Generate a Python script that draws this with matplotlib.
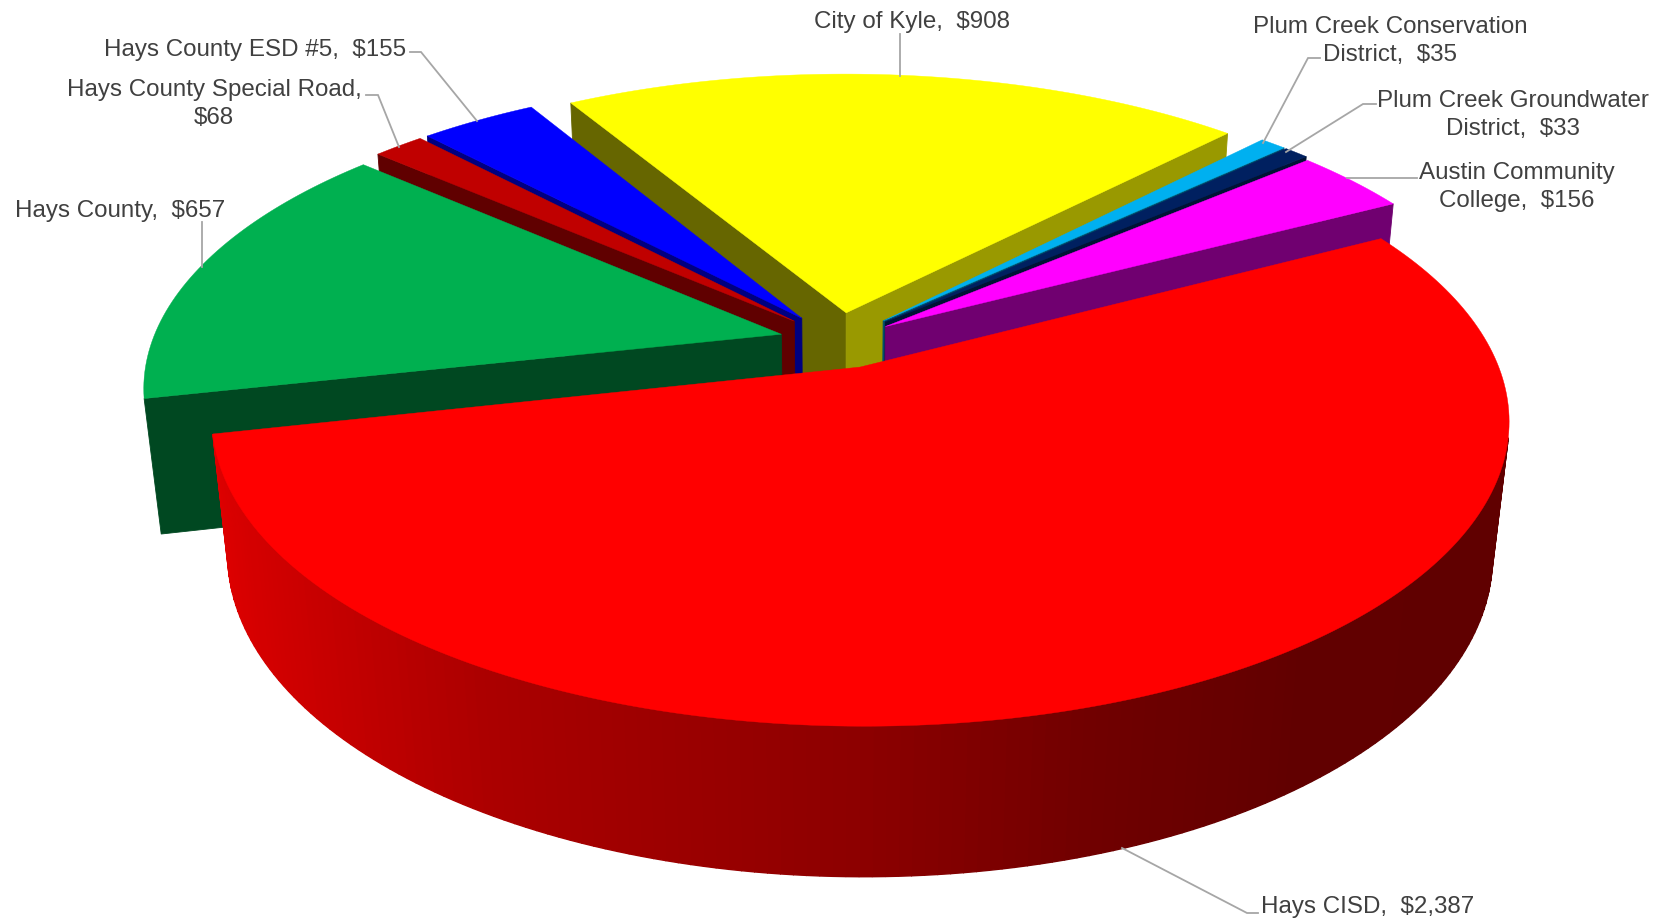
import numpy as np
import matplotlib
matplotlib.use('Agg')
import matplotlib.pyplot as plt

plt.rcParams['font.family'] = ['Liberation Sans', 'DejaVu Sans']

# -------------------------------
# data (clockwise from the first slice)
# -------------------------------
names = ['City of Kyle', 'Plum Creek Conservation\nDistrict', 'Plum Creek Groundwater\nDistrict',
         'Austin Community\nCollege', 'Hays CISD', 'Hays County',
         'Hays County Special Road', 'Hays County ESD #5']
values = [908, 35, 33, 156, 2387, 657, 68, 155]
separators = [',  ', ',  ', ',  ', ',  ', ',  ', ',  ', ',\n', ',  ']

colors = ['#FFFF00', '#00B0F0', '#002060', '#FF00FF', '#FF0000', '#00B050', '#C00000', '#0000FF']
start_shade = [0.40, 0.45, 0.50, 0.45, 0.45, 0.41, 0.50, 0.50]
end_shade = [0.60, 0.45, 0.55, 0.44, 0.45, 0.41, 0.50, 0.50]
explode = [0.10, 0.10, 0.10, 0.09, 0.095, 0.095, 0.10, 0.10]
draw_order = [0, 1, 2, 3, 7, 6, 5, 4]

label_x = [912, 1390, 1513, 1517, 1368, 120, 214, 255]
label_y = [22, 41, 115, 187, 907, 211, 104, 50]
leaders = [
    [(900, 34), (900, 76)],
    [(1320, 58), (1308, 58), (1263, 143)],
    [(1376, 104), (1363, 104), (1286, 152)],
    [(1417, 178), (1347, 178)],
    [(1258, 913), (1247, 913), (1122, 848)],
    [(202, 222), (202, 267)],
    [(366, 95), (378, 95), (399, 147)],
    [(410, 52), (421, 52), (477, 121)],
]

# -------------------------------
# camera and pie shape
# -------------------------------
first_angle = 329.5
thickness = 0.26
elev = np.radians(28.9)
dist = 5.15
fx, fy = 3240, 3071
cx, cy = 839, 341
sin_e, cos_e = np.sin(elev), np.cos(elev)

# how dark the outer rim gets, left to right
rim_x = [-1, -0.8, -0.5, 0, 0.3, 0.6, 1]
rim_shade = [0.88, 0.8, 0.67, 0.55, 0.44, 0.38, 0.376]


def project(x, y, z):
    depth = dist + y * cos_e - z * sin_e
    return cx + fx * x / depth, cy - fy * (y * sin_e + z * cos_e) / depth


def shaded(color, factor):
    rgb = np.array(matplotlib.colors.to_rgb(color))
    return tuple(rgb * factor)


def facing(nx, ny, px, py):
    # walls are vertical, so only the ground plane matters
    return nx * (0 - px) + ny * (-dist * cos_e - py) > 0


def draw_quad(ax, xs, ys, color, lw=0.6):
    sx, sy = project(np.array(xs), np.array(ys), np.array([0, 0, -thickness, -thickness]))
    ax.fill(sx, sy, color=color, lw=lw)


def draw_slice(ax, a, b, color, s_shade, e_shade, ex):
    mid = np.radians((a + b) / 2)
    ox, oy = ex * np.sin(mid), ex * np.cos(mid)
    theta = np.radians(np.linspace(a, b, max(int(b - a), 4) + 1))
    rx = ox + np.sin(theta)
    ry = oy + np.cos(theta)

    # straight walls
    ra, rb = theta[0], theta[-1]
    if facing(np.sin(ra - np.pi / 2), np.cos(ra - np.pi / 2), ox, oy):
        draw_quad(ax, [ox, rx[0], rx[0], ox], [oy, ry[0], ry[0], oy], shaded(color, s_shade))
    if facing(np.sin(rb + np.pi / 2), np.cos(rb + np.pi / 2), ox, oy):
        draw_quad(ax, [ox, rx[-1], rx[-1], ox], [oy, ry[-1], ry[-1], oy], shaded(color, e_shade))

    # outer rim, one small strip at a time for the gradient
    for i in range(len(theta) - 1):
        t = (theta[i] + theta[i + 1]) / 2
        if not facing(np.sin(t), np.cos(t), ox + np.sin(t), oy + np.cos(t)):
            continue
        f = np.interp(np.sin(t), rim_x, rim_shade)
        draw_quad(ax, [rx[i], rx[i + 1], rx[i + 1], rx[i]], [ry[i], ry[i + 1], ry[i + 1], ry[i]],
                  shaded(color, f), lw=1.0)

    # top face
    tx = np.r_[ox, rx]
    ty = np.r_[oy, ry]
    sx, sy = project(tx, ty, np.zeros(len(tx)))
    ax.fill(sx, sy, color=color, lw=0.3)


# -------------------------------
# figure
# -------------------------------
fig = plt.figure(figsize=(16.62, 9.22), dpi=100)
ax = fig.add_axes([0, 0, 1, 1])
ax.set_xlim(0, 1662)
ax.set_ylim(922, 0)
ax.axis('off')

sweep = np.array(values) / sum(values) * 360
starts = first_angle - 360 + np.r_[0, np.cumsum(sweep)[:-1]]

for i in draw_order:
    draw_slice(ax, starts[i], starts[i] + sweep[i], colors[i], start_shade[i], end_shade[i], explode[i])

for pts in leaders:
    xs, ys = zip(*pts)
    ax.plot(xs, ys, color='#A6A6A6', lw=1.3, solid_joinstyle='miter')

for i, name in enumerate(names):
    ax.text(label_x[i], label_y[i], f'{name}{separators[i]}${values[i]:,}',
            ha='center', va='center', fontsize=17.4, color='#404040', linespacing=1.36)

fig.savefig('out.png', dpi=100, facecolor='white')
